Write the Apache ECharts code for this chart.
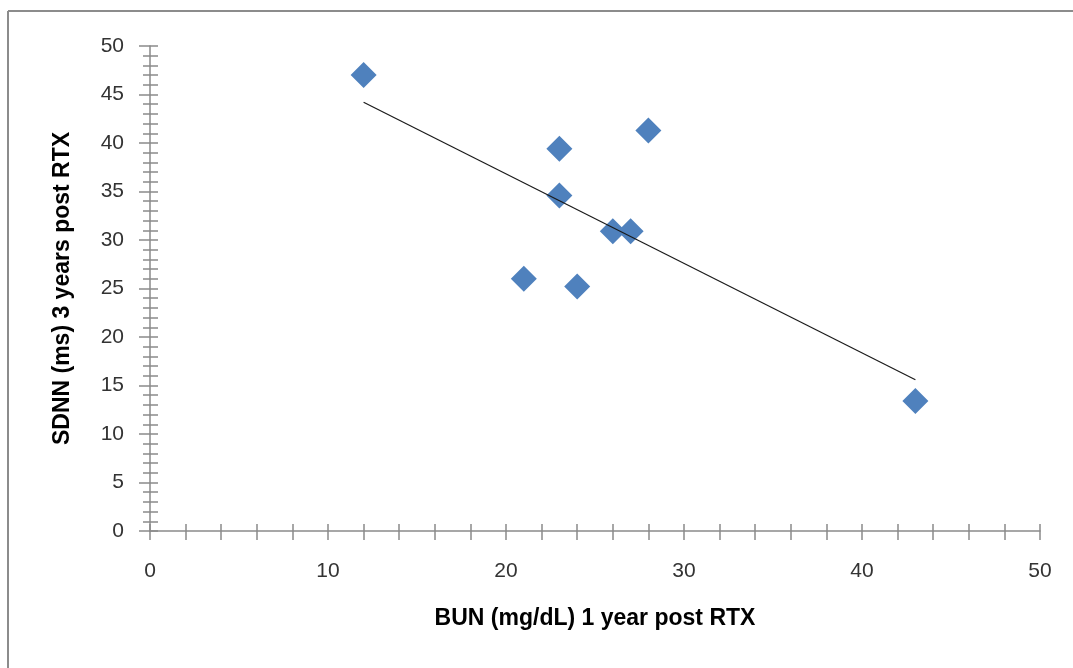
<html lang="en">
<head>
<meta charset="UTF-8">
<title>SDNN vs BUN</title>
<script src="https://cdn.jsdelivr.net/npm/echarts@6/dist/echarts.min.js"></script>
<style>
  html, body { margin: 0; padding: 0; background: #fff; }
  #chart { width: 1073px; height: 668px; }
</style>
</head>
<body>
<div id="chart"></div>
<script>
// values
var bun = [12, 23, 28, 23, 26, 27, 21, 24, 43];
var sdnn = [47, 39.4, 41.3, 34.6, 30.9, 30.9, 26, 25.2, 13.4];
// trendline end points
var trendX = [12, 43];
var trendY = [44.2, 15.6];

var points = bun.map(function (x, i) { return [x, sdnn[i]]; });
var trend = trendX.map(function (x, i) { return [x, trendY[i]]; });

var axisGrey = '#8a8a8a';
var font = '"Liberation Sans", Arial, sans-serif';

let myChart = echarts.init(document.getElementById('chart'));

var option = {
    animation: false,
    grid: { left: 150, right: 33, top: 46, bottom: 137 },
    graphic: [
        { type: 'line', shape: { x1: 8, y1: 11, x2: 8, y2: 668 }, style: { stroke: '#8c8c8c', lineWidth: 2 } },
        { type: 'line', shape: { x1: 8, y1: 11, x2: 1073, y2: 11 }, style: { stroke: '#8c8c8c', lineWidth: 2 } }
    ],
    xAxis: [{
        type: 'value', min: 0, max: 50, interval: 10,
        name: 'BUN (mg/dL) 1 year post RTX', nameLocation: 'middle', nameGap: 76,
        nameTextStyle: { fontFamily: font, fontSize: 23, fontWeight: 'bold', color: '#000' },
        axisLine: { lineStyle: { color: axisGrey, width: 1.5 } },
        axisTick: { show: true, length: 9, lineStyle: { color: axisGrey, width: 1.5 } },
        minorTick: { show: true, splitNumber: 5, length: 9, lineStyle: { color: axisGrey, width: 1.5 } },
        axisLabel: { margin: 30, fontFamily: font, fontSize: 21, color: '#333' },
        splitLine: { show: false }
    }, {
        type: 'value', min: 0, max: 50, interval: 10, position: 'bottom', offset: 0,
        axisLine: { show: false },
        axisTick: { show: true, inside: true, length: 7, lineStyle: { color: axisGrey, width: 1.5 } },
        minorTick: { show: true, splitNumber: 5, length: 7, lineStyle: { color: axisGrey, width: 1.5 } },
        axisLabel: { show: false },
        splitLine: { show: false }
    }],
    yAxis: [{
        type: 'value', min: 0, max: 50, interval: 5,
        name: 'SDNN (ms) 3 years post RTX', nameLocation: 'middle', nameGap: 76,
        nameTextStyle: { fontFamily: font, fontSize: 23, fontWeight: 'bold', color: '#000' },
        axisLine: { show: true, lineStyle: { color: axisGrey, width: 1.5 } },
        axisTick: { show: true, length: 11, lineStyle: { color: axisGrey, width: 1.5 } },
        minorTick: { show: true, splitNumber: 5, length: 7, lineStyle: { color: axisGrey, width: 1.5 } },
        axisLabel: { margin: 26, fontFamily: font, fontSize: 21, color: '#333' },
        splitLine: { show: false }
    }, {
        type: 'value', min: 0, max: 50, interval: 5, position: 'left', offset: 0,
        axisLine: { show: false },
        axisTick: { show: true, inside: true, length: 8, lineStyle: { color: axisGrey, width: 1.5 } },
        minorTick: { show: true, splitNumber: 5, length: 8, lineStyle: { color: axisGrey, width: 1.5 } },
        axisLabel: { show: false },
        splitLine: { show: false }
    }],
    series: [{
        name: 'trend',
        type: 'line',
        data: trend,
        showSymbol: false,
        symbol: 'none',
        lineStyle: { color: '#1a1a1a', width: 1.2 },
        z: 3
    }, {
        name: 'SDNN',
        type: 'scatter',
        data: points,
        symbol: 'diamond',
        symbolSize: 26,
        itemStyle: { color: '#4f81bd', opacity: 1 },
        z: 2
    }]
};

myChart.setOption(option);
</script>
</body>
</html>
